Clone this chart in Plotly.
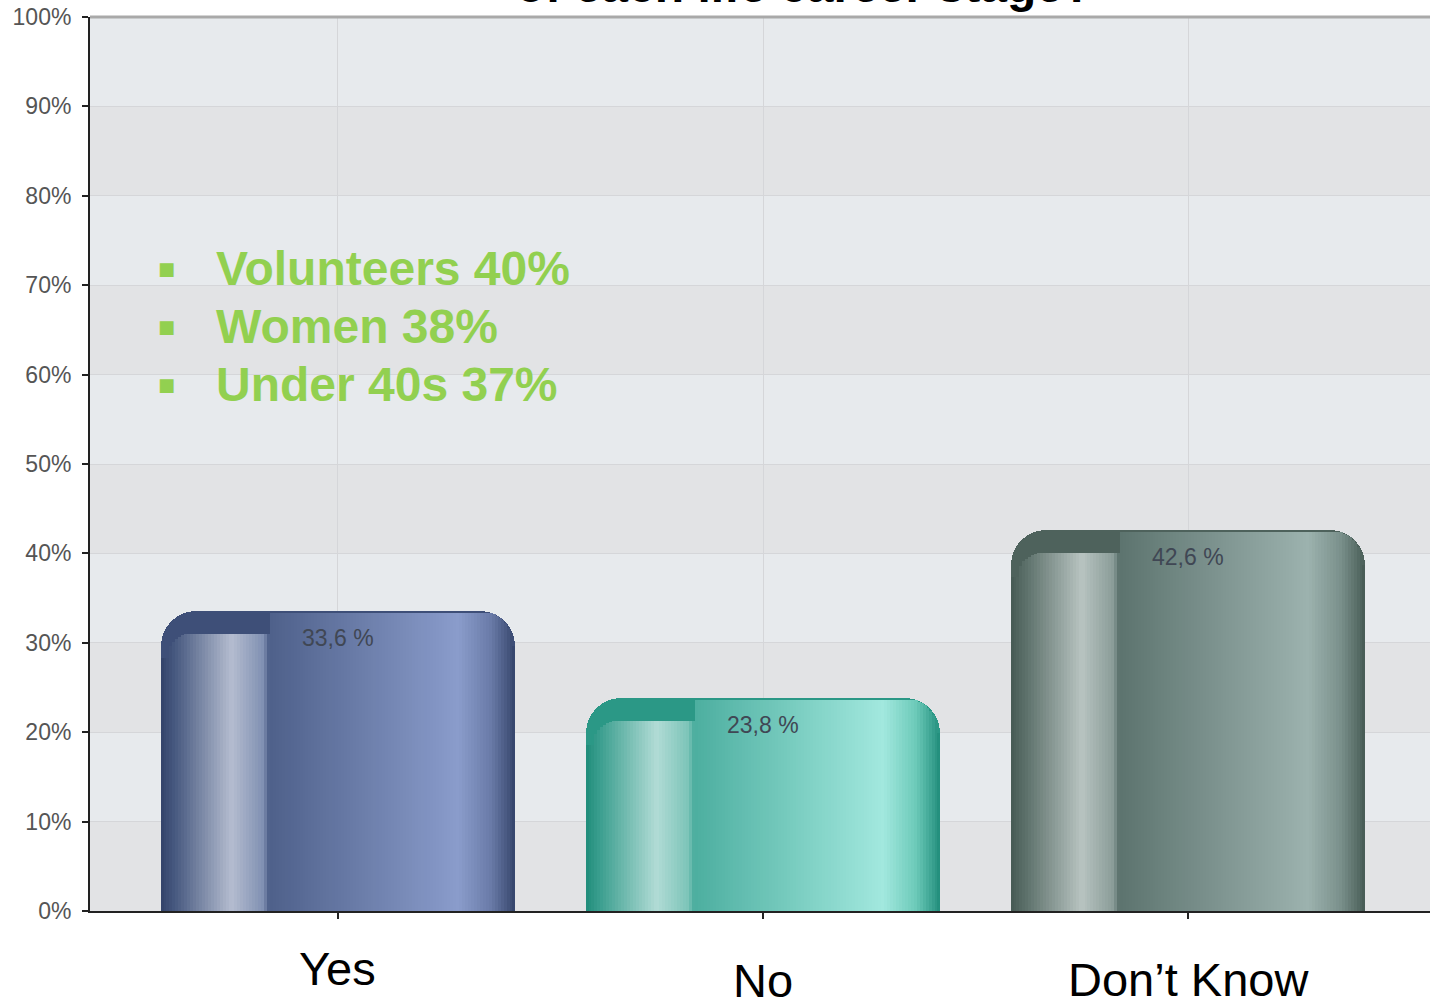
import numpy as np
import plotly.graph_objects as go

# ---- data ----
categories = ["Yes", "No", "Don’t Know"]
values = [33.6, 23.8, 42.6]
value_labels = ["33,6 %", "23,8 %", "42,6 %"]
y_ticks = [0, 10, 20, 30, 40, 50, 60, 70, 80, 90, 100]
y_tick_labels = [f"{t}%" for t in y_ticks]
highlights = ["Volunteers 40%", "Women 38%", "Under 40s 37%"]
title_text = "of each life career stage?"

# ---- styling ----
FONT = "Liberation Sans, Arial, sans-serif"
W, H = 1430, 1000
M_L, M_R, M_T, M_B = 90, 0, 17, 89
X_RANGE = [-0.5835, 2.5694]
BAR_W = 0.835
PX_PER_UNIT = (H - M_T - M_B) / 100.0
PX_PER_CAT = (W - M_L - M_R) / (X_RANGE[1] - X_RANGE[0])
BAR_PX = BAR_W * PX_PER_CAT
R = 35          # corner radius of bar (px)
HL_END = 0.305  # highlight band ends at this fraction of bar width
HL_DROP = 23    # highlight band starts this far below bar top (px)
R2 = 24

# horizontal gradient profile per bar: (fraction, colour)
profiles = [
    [(0, "#33436a"), (0.04, "#46587f"), (0.20, "#b5bdd0"), (0.29, "#8090b2"),
     (0.305, "#4e608a"), (0.84, "#8a9ccb"), (0.93, "#6a7ba8"), (1.0, "#34446a")],
    [(0, "#1f8c7a"), (0.04, "#3a9e8e"), (0.20, "#b2dcd6"), (0.29, "#7cc4b8"),
     (0.305, "#4cae9f"), (0.84, "#a2e8de"), (0.93, "#6ccab9"), (1.0, "#1f8c7a")],
    [(0, "#465a54"), (0.04, "#5a6e68"), (0.20, "#b8c4c1"), (0.29, "#8a9c98"),
     (0.305, "#5c736e"), (0.84, "#9cb2ae"), (0.93, "#7a908b"), (1.0, "#465a54")],
]
cap_colors = ["#3e4f78", "#2b9886", "#4e625c"]


def hex2rgb(h):
    h = h.lstrip("#")
    return np.array([int(h[i:i + 2], 16) for i in (0, 2, 4)], dtype=float)


def sample(profile, f):
    fs = [p[0] for p in profile]
    cs = np.array([hex2rgb(p[1]) for p in profile])
    rgb = [np.interp(f, fs, cs[:, k]) for k in range(3)]
    return "rgb(%d,%d,%d)" % tuple(int(round(c)) for c in rgb)


def corner_drop(edge, r):
    if edge >= r:
        return 0.0
    edge = max(edge, 0.0)
    return r - np.sqrt(r ** 2 - (r - edge) ** 2)


fig = go.Figure()

# base bar (dark cap with rounded top)
fig.add_trace(go.Bar(
    x=categories, y=values, width=BAR_W,
    marker=dict(color=cap_colors, cornerradius=R, line=dict(width=0)),
    hoverinfo="skip", showlegend=False,
))

# gradient strips laid over the base bar
N = 120
step = BAR_W / N
step_px = BAR_PX / N
for i in range(N):
    f = (i + 0.5) / N
    w = step * 1.3 if i < N - 1 else step
    left_px = i * step_px
    right_px = left_px + w * PX_PER_CAT
    edge = min(left_px, BAR_PX - right_px)
    drop = max(2.0, corner_drop(edge, R))
    if f < HL_END:
        drop = max(drop, HL_DROP + corner_drop(left_px - 6, R2))
    ys = [v - drop / PX_PER_UNIT for v in values]
    cols = [sample(p, f) for p in profiles]
    fig.add_trace(go.Bar(
        x=categories, y=ys, width=w, offset=-BAR_W / 2 + i * step,
        marker=dict(color=cols, line=dict(width=0)),
        hoverinfo="skip", showlegend=False,
    ))

# alternating background bands
for lo in range(0, 100, 20):
    fig.add_shape(type="rect", xref="paper", yref="y", x0=0, x1=1, y0=lo, y1=lo + 10,
                  fillcolor="#e2e3e5", line=dict(width=0), layer="below")
fig.add_shape(type="line", xref="paper", yref="paper", x0=0, x1=1, y0=1, y1=1,
              line=dict(color="#a9a9a9", width=3))

annotations = []
for c, v, lab in zip(categories, values, value_labels):
    annotations.append(dict(x=c, y=v, xref="x", yref="y", text=lab, showarrow=False,
                            yanchor="middle", yshift=-27,
                            font=dict(family=FONT, size=23, color="#404754")))

x_shifts = [-57, -69, -68]
for c, s in zip(categories, x_shifts):
    annotations.append(dict(x=c, y=0, xref="x", yref="paper", text=c, showarrow=False,
                            yanchor="middle", yshift=s,
                            font=dict(family=FONT, size=47, color="#000000")))

for k, t in enumerate(highlights):
    yy = (H - M_B - (268 + 58 * k)) / (H - M_T - M_B)
    annotations.append(dict(x=(166 - M_L) / (W - M_L - M_R), y=yy, xref="paper", yref="paper",
                            text="■", showarrow=False, xanchor="center", yanchor="middle",
                            font=dict(family="DejaVu Sans", size=18, color="#92d050")))
    annotations.append(dict(x=(214 - M_L) / (W - M_L - M_R), y=yy, xref="paper", yref="paper",
                            text=f"<b>{t}</b>", showarrow=False, xanchor="left", yanchor="middle",
                            font=dict(family=FONT, size=48, color="#92d050")))

annotations.append(dict(x=(804 - M_L) / (W - M_L - M_R), y=1, xref="paper", yref="paper",
                        text=f"<b>{title_text}</b>", showarrow=False, xanchor="center",
                        yanchor="bottom", yshift=3,
                        font=dict(family=FONT, size=48, color="#000000")))

fig.update_layout(
    width=W, height=H,
    margin=dict(l=M_L, r=M_R, t=M_T, b=M_B),
    paper_bgcolor="#ffffff",
    plot_bgcolor="#e7eaed",
    barmode="overlay",
    bargap=0,
    annotations=annotations,
    xaxis=dict(type="category", range=X_RANGE, showgrid=True, gridcolor="#d5d6d9", gridwidth=1,
               showline=True, linecolor="#222222", linewidth=2, ticks="outside", ticklen=6,
               tickwidth=2, tickcolor="#222222", showticklabels=False, zeroline=False),
    yaxis=dict(range=[0, 100], tickvals=y_ticks, ticktext=y_tick_labels, showgrid=True,
               gridcolor="#d5d6d9", gridwidth=1, showline=True, linecolor="#222222", linewidth=2,
               ticks="outside", ticklen=6, tickwidth=2, tickcolor="#222222", zeroline=False,
               ticklabelstandoff=6,
               tickfont=dict(family=FONT, size=23, color="#555555")),
)

fig.write_html("out.html", config={"displayModeBar": False},
               post_script="document.body.style.margin='0';")
